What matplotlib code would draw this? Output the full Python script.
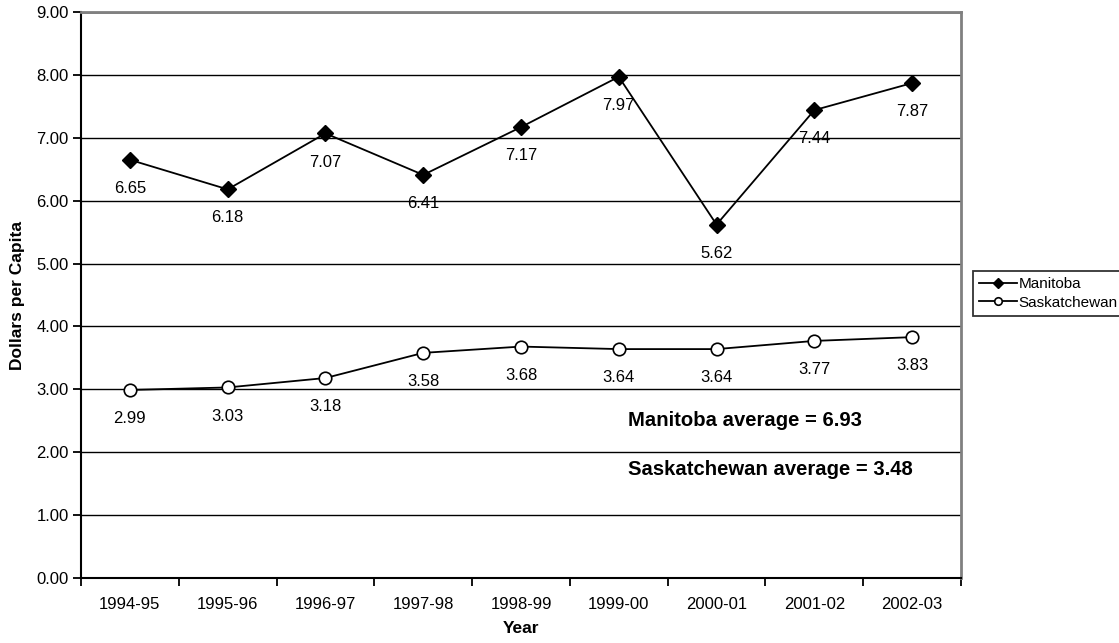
import matplotlib.pyplot as plt

plt.rcParams['font.family'] = ['Liberation Sans', 'DejaVu Sans']

years = ["1994-95", "1995-96", "1996-97", "1997-98", "1998-99",
         "1999-00", "2000-01", "2001-02", "2002-03"]
manitoba = [6.65, 6.18, 7.07, 6.41, 7.17, 7.97, 5.62, 7.44, 7.87]
saskatchewan = [2.99, 3.03, 3.18, 3.58, 3.68, 3.64, 3.64, 3.77, 3.83]
yticks = [0, 1, 2, 3, 4, 5, 6, 7, 8, 9]

fig = plt.figure(figsize=(11.19, 6.43), dpi=100)
ax = fig.add_axes([0.0724, 0.1011, 0.7864, 0.8802])

x = list(range(len(years)))
ax.plot(x, manitoba, color='black', lw=1.3, marker='D', ms=8,
        mfc='black', mec='black', label='Manitoba', zorder=3)
ax.plot(x, saskatchewan, color='black', lw=1.3, marker='o', ms=9,
        mfc='white', mec='black', mew=1.2, label='Saskatchewan', zorder=3)

for i in x:
    ax.annotate(f"{manitoba[i]:.2f}", (i, manitoba[i]), xytext=(0, -26),
                textcoords='offset points', ha='center', va='bottom', fontsize=12)
    ax.annotate(f"{saskatchewan[i]:.2f}", (i, saskatchewan[i]), xytext=(0, -26),
                textcoords='offset points', ha='center', va='bottom', fontsize=12)

ax.text(5.09, 2.51, "Manitoba average = 6.93", fontsize=14.6, fontweight='bold', va='center')
ax.text(5.09, 1.72, "Saskatchewan average = 3.48", fontsize=14.6, fontweight='bold', va='center')

ax.set_xlim(-0.5, len(years) - 0.5)
ax.set_ylim(0, 9)
ax.set_yticks(yticks)
ax.set_yticklabels([f"{v:.2f}" for v in yticks], fontsize=12)
ax.set_xticks(x)
ax.set_xticklabels(years, fontsize=12)
ax.tick_params(axis='x', which='major', length=0, pad=14)
ax.set_xticks([i - 0.5 for i in range(len(years) + 1)], minor=True)
ax.tick_params(axis='x', which='minor', length=6, width=1.3, direction='out')
ax.tick_params(axis='y', length=6, width=1.3, direction='out', pad=3)

for v in yticks[1:-1]:
    ax.axhline(v, color='black', lw=1, zorder=1)
ax.axhline(9, color='#808080', lw=2, zorder=1)

ax.spines['left'].set_linewidth(1.5)
ax.spines['bottom'].set_linewidth(1.5)
ax.spines['top'].set_color('#808080')
ax.spines['top'].set_linewidth(2)
ax.spines['right'].set_color('#808080')
ax.spines['right'].set_linewidth(2)

ax.set_ylabel("Dollars per Capita", fontsize=12.5, fontweight='bold', labelpad=8)
ax.set_xlabel("Year", fontsize=12.5, fontweight='bold', labelpad=6)

leg = fig.legend(loc='upper left', bbox_to_anchor=(0.8695, 0.5785), fontsize=11,
                 frameon=True, fancybox=False, edgecolor='black', borderpad=0.4,
                 handlelength=2.5, handletextpad=0.1, labelspacing=0.3, borderaxespad=0,
                 markerscale=0.6)
leg.get_frame().set_linewidth(1.3)

fig.savefig("out.png", dpi=100)
